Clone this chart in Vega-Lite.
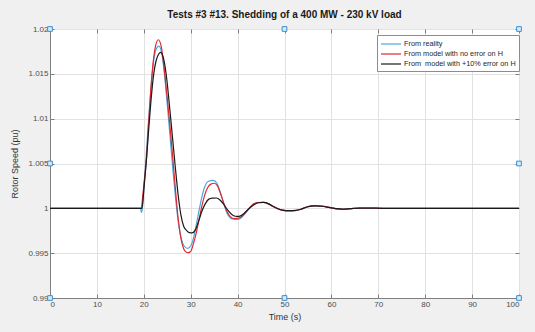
{
  "$schema": "https://vega.github.io/schema/vega-lite/v6.json",
  "width": 469,
  "height": 269,
  "autosize": "none",
  "padding": {"left": 50, "top": 29, "right": 16, "bottom": 34},
  "background": "#f0f0f0",
  "title": {"text": "Tests #3 #13. Shedding of a 400 MW - 230 kV load", "fontSize": 10, "fontWeight": "bold", "font": "Liberation Sans", "color": "#1a1a1a", "offset": 5},
  "config": {
    "view": {"fill": "white", "stroke": "#7f7f7f", "strokeWidth": 1},
    "axis": {"labelFont": "Liberation Sans", "titleFont": "Liberation Sans", "labelFontSize": 8, "titleFontSize": 9, "titleFontWeight": "normal", "labelColor": "#4d4d4d", "titleColor": "#333333", "domainColor": "#7f7f7f", "tickColor": "#7f7f7f", "gridColor": "#e2e2e2", "tickSize": -4, "labelPadding": 6}
  },
  "resolve": {"axis": {"x": "independent", "y": "independent"}},
  "datasets": {
    "curves": [
      {"t": 0, "v": 1.0, "s": "From reality"},
      {"t": 19.3, "v": 1.0, "s": "From reality"},
      {"t": 19.5, "v": 0.99955, "s": "From reality"},
      {"t": 19.7, "v": 1.0, "s": "From reality"},
      {"t": 20.1, "v": 1.003, "s": "From reality"},
      {"t": 20.5, "v": 1.0058, "s": "From reality"},
      {"t": 21.0, "v": 1.0097, "s": "From reality"},
      {"t": 21.5, "v": 1.0132, "s": "From reality"},
      {"t": 22.0, "v": 1.016, "s": "From reality"},
      {"t": 22.6, "v": 1.0177, "s": "From reality"},
      {"t": 23.2, "v": 1.0181, "s": "From reality"},
      {"t": 23.8, "v": 1.0174, "s": "From reality"},
      {"t": 24.4, "v": 1.015, "s": "From reality"},
      {"t": 25.0, "v": 1.0116, "s": "From reality"},
      {"t": 25.6, "v": 1.008, "s": "From reality"},
      {"t": 26.2, "v": 1.0043, "s": "From reality"},
      {"t": 26.8, "v": 1.001, "s": "From reality"},
      {"t": 27.4, "v": 0.9983, "s": "From reality"},
      {"t": 28.0, "v": 0.9966, "s": "From reality"},
      {"t": 28.6, "v": 0.9958, "s": "From reality"},
      {"t": 29.35, "v": 0.99553, "s": "From reality"},
      {"t": 30.0, "v": 0.9958, "s": "From reality"},
      {"t": 30.6, "v": 0.9967, "s": "From reality"},
      {"t": 31.2, "v": 0.9982, "s": "From reality"},
      {"t": 31.8, "v": 0.9998, "s": "From reality"},
      {"t": 32.4, "v": 1.0013, "s": "From reality"},
      {"t": 33.0, "v": 1.0024, "s": "From reality"},
      {"t": 33.7, "v": 1.003, "s": "From reality"},
      {"t": 34.8, "v": 1.00312, "s": "From reality"},
      {"t": 35.6, "v": 1.0028, "s": "From reality"},
      {"t": 36.3, "v": 1.0018, "s": "From reality"},
      {"t": 37.0, "v": 1.0006, "s": "From reality"},
      {"t": 37.7, "v": 0.9995, "s": "From reality"},
      {"t": 38.4, "v": 0.99895, "s": "From reality"},
      {"t": 39.2, "v": 0.99878, "s": "From reality"},
      {"t": 40.1, "v": 0.99876, "s": "From reality"},
      {"t": 40.9, "v": 0.999, "s": "From reality"},
      {"t": 41.7, "v": 0.9995, "s": "From reality"},
      {"t": 42.5, "v": 1.0, "s": "From reality"},
      {"t": 43.3, "v": 1.0004, "s": "From reality"},
      {"t": 44.3, "v": 1.00062, "s": "From reality"},
      {"t": 45.4, "v": 1.00066, "s": "From reality"},
      {"t": 46.6, "v": 1.0005, "s": "From reality"},
      {"t": 47.6, "v": 1.0002, "s": "From reality"},
      {"t": 48.6, "v": 0.99995, "s": "From reality"},
      {"t": 49.6, "v": 0.9998, "s": "From reality"},
      {"t": 51.0, "v": 0.99973, "s": "From reality"},
      {"t": 52.3, "v": 0.99976, "s": "From reality"},
      {"t": 53.5, "v": 0.9999, "s": "From reality"},
      {"t": 54.8, "v": 1.00015, "s": "From reality"},
      {"t": 56.5, "v": 1.00028, "s": "From reality"},
      {"t": 58.0, "v": 1.00024, "s": "From reality"},
      {"t": 59.5, "v": 1.0001, "s": "From reality"},
      {"t": 61.0, "v": 0.99996, "s": "From reality"},
      {"t": 62.5, "v": 0.9999, "s": "From reality"},
      {"t": 64.0, "v": 0.99996, "s": "From reality"},
      {"t": 66.0, "v": 1.00003, "s": "From reality"},
      {"t": 68.0, "v": 1.00003, "s": "From reality"},
      {"t": 71.0, "v": 1.0, "s": "From reality"},
      {"t": 100, "v": 1.0, "s": "From reality"},

      {"t": 0, "v": 1.0, "s": "From model with no error on H"},
      {"t": 19.45, "v": 1.0, "s": "From model with no error on H"},
      {"t": 19.8, "v": 1.0015, "s": "From model with no error on H"},
      {"t": 20.2, "v": 1.0035, "s": "From model with no error on H"},
      {"t": 20.6, "v": 1.0057, "s": "From model with no error on H"},
      {"t": 21.0, "v": 1.0093, "s": "From model with no error on H"},
      {"t": 21.5, "v": 1.0133, "s": "From model with no error on H"},
      {"t": 22.0, "v": 1.0163, "s": "From model with no error on H"},
      {"t": 22.5, "v": 1.0181, "s": "From model with no error on H"},
      {"t": 23.1, "v": 1.0188, "s": "From model with no error on H"},
      {"t": 23.7, "v": 1.0181, "s": "From model with no error on H"},
      {"t": 24.3, "v": 1.0158, "s": "From model with no error on H"},
      {"t": 24.9, "v": 1.0128, "s": "From model with no error on H"},
      {"t": 25.5, "v": 1.0096, "s": "From model with no error on H"},
      {"t": 26.1, "v": 1.0061, "s": "From model with no error on H"},
      {"t": 26.7, "v": 1.0024, "s": "From model with no error on H"},
      {"t": 27.3, "v": 0.999, "s": "From model with no error on H"},
      {"t": 27.9, "v": 0.9967, "s": "From model with no error on H"},
      {"t": 28.5, "v": 0.9955, "s": "From model with no error on H"},
      {"t": 29.0, "v": 0.99512, "s": "From model with no error on H"},
      {"t": 29.5, "v": 0.99505, "s": "From model with no error on H"},
      {"t": 30.0, "v": 0.9952, "s": "From model with no error on H"},
      {"t": 30.6, "v": 0.9961, "s": "From model with no error on H"},
      {"t": 31.2, "v": 0.9973, "s": "From model with no error on H"},
      {"t": 31.8, "v": 0.9988, "s": "From model with no error on H"},
      {"t": 32.4, "v": 1.0003, "s": "From model with no error on H"},
      {"t": 33.0, "v": 1.0015, "s": "From model with no error on H"},
      {"t": 33.6, "v": 1.0023, "s": "From model with no error on H"},
      {"t": 34.3, "v": 1.0027, "s": "From model with no error on H"},
      {"t": 35.0, "v": 1.0028, "s": "From model with no error on H"},
      {"t": 35.7, "v": 1.0025, "s": "From model with no error on H"},
      {"t": 36.4, "v": 1.0016, "s": "From model with no error on H"},
      {"t": 37.1, "v": 1.0005, "s": "From model with no error on H"},
      {"t": 37.8, "v": 0.9996, "s": "From model with no error on H"},
      {"t": 38.5, "v": 0.99905, "s": "From model with no error on H"},
      {"t": 39.3, "v": 0.99885, "s": "From model with no error on H"},
      {"t": 40.2, "v": 0.9989, "s": "From model with no error on H"},
      {"t": 41.0, "v": 0.99915, "s": "From model with no error on H"},
      {"t": 41.8, "v": 0.9996, "s": "From model with no error on H"},
      {"t": 42.6, "v": 1.0001, "s": "From model with no error on H"},
      {"t": 43.4, "v": 1.0005, "s": "From model with no error on H"},
      {"t": 44.3, "v": 1.00065, "s": "From model with no error on H"},
      {"t": 45.5, "v": 1.00066, "s": "From model with no error on H"},
      {"t": 46.6, "v": 1.0005, "s": "From model with no error on H"},
      {"t": 47.6, "v": 1.0002, "s": "From model with no error on H"},
      {"t": 48.6, "v": 0.99995, "s": "From model with no error on H"},
      {"t": 49.6, "v": 0.99978, "s": "From model with no error on H"},
      {"t": 51.0, "v": 0.99972, "s": "From model with no error on H"},
      {"t": 52.3, "v": 0.99975, "s": "From model with no error on H"},
      {"t": 53.5, "v": 0.9999, "s": "From model with no error on H"},
      {"t": 54.8, "v": 1.00018, "s": "From model with no error on H"},
      {"t": 56.5, "v": 1.0003, "s": "From model with no error on H"},
      {"t": 58.0, "v": 1.00025, "s": "From model with no error on H"},
      {"t": 59.5, "v": 1.0001, "s": "From model with no error on H"},
      {"t": 61.0, "v": 0.99995, "s": "From model with no error on H"},
      {"t": 62.5, "v": 0.9999, "s": "From model with no error on H"},
      {"t": 64.0, "v": 0.99995, "s": "From model with no error on H"},
      {"t": 66.0, "v": 1.00003, "s": "From model with no error on H"},
      {"t": 68.0, "v": 1.00004, "s": "From model with no error on H"},
      {"t": 71.0, "v": 1.0, "s": "From model with no error on H"},
      {"t": 100, "v": 1.0, "s": "From model with no error on H"},

      {"t": 0, "v": 1.0, "s": "From\u00a0 model with +10% error on H"},
      {"t": 19.6, "v": 1.0, "s": "From\u00a0 model with +10% error on H"},
      {"t": 20.0, "v": 1.002, "s": "From\u00a0 model with +10% error on H"},
      {"t": 20.5, "v": 1.005, "s": "From\u00a0 model with +10% error on H"},
      {"t": 21.0, "v": 1.0085, "s": "From\u00a0 model with +10% error on H"},
      {"t": 21.5, "v": 1.0118, "s": "From\u00a0 model with +10% error on H"},
      {"t": 22.0, "v": 1.0145, "s": "From\u00a0 model with +10% error on H"},
      {"t": 22.7, "v": 1.0166, "s": "From\u00a0 model with +10% error on H"},
      {"t": 23.6, "v": 1.0174, "s": "From\u00a0 model with +10% error on H"},
      {"t": 24.3, "v": 1.0165, "s": "From\u00a0 model with +10% error on H"},
      {"t": 24.9, "v": 1.0144, "s": "From\u00a0 model with +10% error on H"},
      {"t": 25.5, "v": 1.0113, "s": "From\u00a0 model with +10% error on H"},
      {"t": 26.1, "v": 1.008, "s": "From\u00a0 model with +10% error on H"},
      {"t": 26.7, "v": 1.0047, "s": "From\u00a0 model with +10% error on H"},
      {"t": 27.3, "v": 1.0016, "s": "From\u00a0 model with +10% error on H"},
      {"t": 27.9, "v": 0.9993, "s": "From\u00a0 model with +10% error on H"},
      {"t": 28.5, "v": 0.998, "s": "From\u00a0 model with +10% error on H"},
      {"t": 29.1, "v": 0.99755, "s": "From\u00a0 model with +10% error on H"},
      {"t": 29.7, "v": 0.9973, "s": "From\u00a0 model with +10% error on H"},
      {"t": 30.3, "v": 0.99727, "s": "From\u00a0 model with +10% error on H"},
      {"t": 31.0, "v": 0.9976, "s": "From\u00a0 model with +10% error on H"},
      {"t": 31.7, "v": 0.9986, "s": "From\u00a0 model with +10% error on H"},
      {"t": 32.4, "v": 0.9997, "s": "From\u00a0 model with +10% error on H"},
      {"t": 33.1, "v": 1.0005, "s": "From\u00a0 model with +10% error on H"},
      {"t": 33.8, "v": 1.001, "s": "From\u00a0 model with +10% error on H"},
      {"t": 34.6, "v": 1.00113, "s": "From\u00a0 model with +10% error on H"},
      {"t": 35.5, "v": 1.00115, "s": "From\u00a0 model with +10% error on H"},
      {"t": 36.3, "v": 1.0009, "s": "From\u00a0 model with +10% error on H"},
      {"t": 37.1, "v": 1.0004, "s": "From\u00a0 model with +10% error on H"},
      {"t": 37.9, "v": 0.9998, "s": "From\u00a0 model with +10% error on H"},
      {"t": 38.7, "v": 0.99935, "s": "From\u00a0 model with +10% error on H"},
      {"t": 39.5, "v": 0.99912, "s": "From\u00a0 model with +10% error on H"},
      {"t": 40.3, "v": 0.9991, "s": "From\u00a0 model with +10% error on H"},
      {"t": 41.1, "v": 0.9993, "s": "From\u00a0 model with +10% error on H"},
      {"t": 41.9, "v": 0.9997, "s": "From\u00a0 model with +10% error on H"},
      {"t": 42.7, "v": 1.0001, "s": "From\u00a0 model with +10% error on H"},
      {"t": 43.5, "v": 1.0004, "s": "From\u00a0 model with +10% error on H"},
      {"t": 44.4, "v": 1.00062, "s": "From\u00a0 model with +10% error on H"},
      {"t": 45.5, "v": 1.00066, "s": "From\u00a0 model with +10% error on H"},
      {"t": 46.6, "v": 1.0005, "s": "From\u00a0 model with +10% error on H"},
      {"t": 47.6, "v": 1.0002, "s": "From\u00a0 model with +10% error on H"},
      {"t": 48.6, "v": 0.99996, "s": "From\u00a0 model with +10% error on H"},
      {"t": 49.6, "v": 0.9998, "s": "From\u00a0 model with +10% error on H"},
      {"t": 51.0, "v": 0.99974, "s": "From\u00a0 model with +10% error on H"},
      {"t": 52.3, "v": 0.99977, "s": "From\u00a0 model with +10% error on H"},
      {"t": 53.5, "v": 0.9999, "s": "From\u00a0 model with +10% error on H"},
      {"t": 54.8, "v": 1.00015, "s": "From\u00a0 model with +10% error on H"},
      {"t": 56.5, "v": 1.00027, "s": "From\u00a0 model with +10% error on H"},
      {"t": 58.0, "v": 1.00023, "s": "From\u00a0 model with +10% error on H"},
      {"t": 59.5, "v": 1.0001, "s": "From\u00a0 model with +10% error on H"},
      {"t": 61.0, "v": 0.99996, "s": "From\u00a0 model with +10% error on H"},
      {"t": 62.5, "v": 0.99991, "s": "From\u00a0 model with +10% error on H"},
      {"t": 64.0, "v": 0.99996, "s": "From\u00a0 model with +10% error on H"},
      {"t": 66.0, "v": 1.00003, "s": "From\u00a0 model with +10% error on H"},
      {"t": 68.0, "v": 1.00003, "s": "From\u00a0 model with +10% error on H"},
      {"t": 71.0, "v": 1.0, "s": "From\u00a0 model with +10% error on H"},
      {"t": 100, "v": 1.0, "s": "From\u00a0 model with +10% error on H"}
    ],
    "handles": [
      {"t": 0, "v": 1.02}, {"t": 50, "v": 1.02}, {"t": 100, "v": 1.02},
      {"t": 0, "v": 1.005}, {"t": 100, "v": 1.005},
      {"t": 0, "v": 0.99}, {"t": 50, "v": 0.99}, {"t": 100, "v": 0.99}
    ]
  },
  "layer": [
    {
      "data": {"name": "curves"},
      "mark": {"type": "line", "interpolate": "monotone", "strokeWidth": 1.2, "clip": true},
      "encoding": {
        "x": {"field": "t", "type": "quantitative", "scale": {"domain": [0, 100], "nice": false},
          "axis": {"title": "Time (s)", "values": [0,10,20,30,40,50,60,70,80,90,100], "grid": true, "titlePadding": 4}},
        "y": {"field": "v", "type": "quantitative", "scale": {"domain": [0.99, 1.02], "nice": false, "zero": false},
          "axis": {"title": "Rotor Speed (pu)", "values": [0.99, 0.995, 1.0, 1.005, 1.01, 1.015, 1.02], "format": "~g", "grid": true, "titlePadding": 8}},
        "color": {"field": "s", "type": "nominal",
          "scale": {"domain": ["From reality", "From model with no error on H", "From\u00a0 model with +10% error on H"], "range": ["#4da6db", "#e0282f", "#1a1a1a"]},
          "legend": {"title": null, "orient": "none", "legendX": 327, "legendY": 6, "fillColor": "white", "strokeColor": "#8c8c8c", "padding": 3, "labelFontSize": 7.3, "labelFont": "Liberation Sans", "labelColor": "#262626", "symbolType": "M-1,0H3", "symbolSize": 100, "symbolStrokeWidth": 1.2, "rowPadding": 0, "labelOffset": 12}},
        "order": {"field": "t", "type": "quantitative"}
      }
    },
    {
      "data": {"name": "handles"},
      "mark": {"type": "point", "shape": "square", "size": 22, "filled": true, "fill": "#d6ecfa", "stroke": "#3a8fd0", "strokeWidth": 1, "opacity": 1},
      "encoding": {
        "x": {"field": "t", "type": "quantitative",
          "axis": {"orient": "top", "title": null, "labels": false, "grid": false, "domain": false, "values": [0,10,20,30,40,50,60,70,80,90,100]}},
        "y": {"field": "v", "type": "quantitative",
          "axis": {"orient": "right", "title": null, "labels": false, "grid": false, "domain": false, "values": [0.99, 0.995, 1.0, 1.005, 1.01, 1.015, 1.02]}}
      }
    }
  ]
}
